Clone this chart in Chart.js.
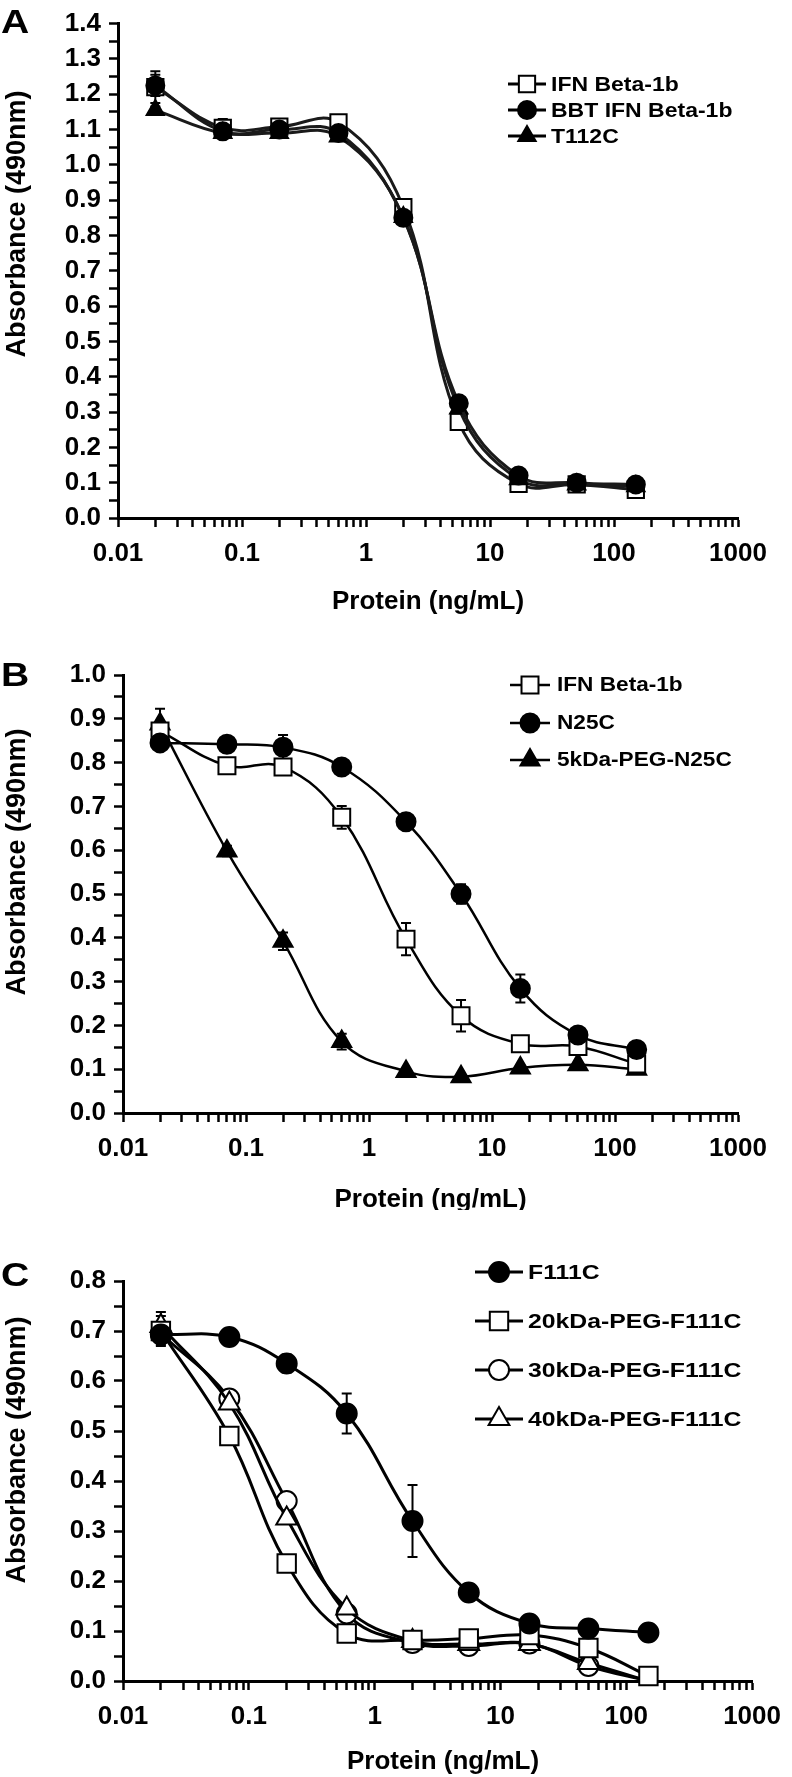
<!DOCTYPE html>
<html>
<head>
<meta charset="utf-8">
<script src="https://cdn.jsdelivr.net/npm/chart.js@4.4.1/dist/chart.umd.min.js"></script>
<style>
  html, body { margin: 0; padding: 0; background: #fff; }
  #wrap { position: relative; width: 792px; height: 1777px; overflow: hidden; }
  canvas { position: absolute; left: 0; }
</style>
</head>
<body>
<div id="wrap">
  <canvas id="chartA" width="792" height="620" style="top:0px"></canvas>
  <canvas id="chartB" width="792" height="590" style="top:620px"></canvas>
  <canvas id="chartC" width="792" height="567" style="top:1210px"></canvas>
</div>
<script>
// ---- data ----
const conc = [0.02, 0.07, 0.2, 0.6, 2, 5.6, 17, 50, 150];   // ng/mL
const xTickLabels = ['0.01', '0.1', '1', '10', '100', '1000'];
const xTitle = 'Protein (ng/mL)';
const yTitle = 'Absorbance (490nm)';

// panel A
const yLabelsA = ['0.0', '0.1', '0.2', '0.3', '0.4', '0.5', '0.6', '0.7', '0.8', '0.9', '1.0', '1.1', '1.2', '1.3', '1.4'];
const ifnA     = [1.22, 1.105, 1.108, 1.12, 0.88, 0.272, 0.097, 0.095, 0.08];
const ifnAErr  = [0.045, 0.025, 0.01, 0.015, 0.015, 0.015, 0.008, 0.008, 0.008];
const bbtA     = [1.225, 1.095, 1.10, 1.09, 0.85, 0.325, 0.12, 0.10, 0.095];
const bbtAErr  = [0.03, 0.01, 0.01, 0.01, 0.012, 0.01, 0.008, 0.006, 0.006];
const t112cA   = [1.155, 1.09, 1.09, 1.08, 0.852, 0.31, 0.11, 0.095, 0.09];
const t112cAErr = [0.01, 0.01, 0.01, 0.01, 0.01, 0.01, 0.005, 0.005, 0.005];

// panel B
const yLabelsB = ['0.0', '0.1', '0.2', '0.3', '0.4', '0.5', '0.6', '0.7', '0.8', '0.9', '1.0'];
const ifnB     = [0.872, 0.793, 0.79, 0.675, 0.397, 0.222, 0.158, 0.152, 0.112];
const ifnBErr  = [0.01, 0.008, 0.008, 0.026, 0.037, 0.036, 0.008, 0.008, 0.008];
const n25cB    = [0.845, 0.842, 0.835, 0.79, 0.665, 0.50, 0.284, 0.178, 0.145];
const n25cBErr = [0.008, 0.005, 0.028, 0.005, 0.006, 0.022, 0.032, 0.008, 0.005];
const pegB     = [0.888, 0.598, 0.392, 0.163, 0.095, 0.083, 0.103, 0.11, 0.10];
const pegBErr  = [0.035, 0.012, 0.02, 0.018, 0.005, 0.005, 0.005, 0.005, 0.005];

// panel C
const yLabelsC = ['0.0', '0.1', '0.2', '0.3', '0.4', '0.5', '0.6', '0.7', '0.8'];
const f111cC    = [0.693, 0.688, 0.635, 0.535, 0.32, 0.177, 0.115, 0.105, 0.097];
const f111cCErr = [0.02, 0.005, 0.018, 0.04, 0.072, 0.008, 0.006, 0.005, 0.004];
const peg20C    = [0.70, 0.49, 0.235, 0.095, 0.082, 0.085, 0.092, 0.066, 0.01];
const peg20CErr = [0.03, 0.01, 0.01, 0.005, 0.005, 0.005, 0.005, 0.005, 0.004];
const peg30C    = [0.695, 0.565, 0.36, 0.135, 0.076, 0.07, 0.075, 0.03, 0.0];
const peg40C    = [0.71, 0.555, 0.325, 0.145, 0.08, 0.074, 0.074, 0.036, 0.0];
const peg40CErr = [0.028, 0.01, 0.01, 0.005, 0.005, 0.005, 0.005, 0.005, 0];

const FONT = "'Liberation Sans', Arial, Helvetica, sans-serif";

// minor + major tick positions of the log axis, one decade at a time
const xTickVals = [];
[0.01, 0.1, 1, 10, 100].forEach(d => { for (let k = 1; k <= 9; k++) xTickVals.push(k * d); });
xTickVals.push(1000);

function drawMarker(ctx, st, x, y) {
  const r = st.r;
  ctx.save();
  ctx.lineWidth = 2;
  ctx.strokeStyle = '#000';
  ctx.fillStyle = st.fill;
  ctx.beginPath();
  if (st.shape === 'circle') {
    ctx.arc(x, y, r, 0, Math.PI * 2);
  } else if (st.shape === 'rect') {
    const s = r * Math.SQRT1_2;
    ctx.rect(x - s, y - s, 2 * s, 2 * s);
  } else {
    let a = 0;
    ctx.moveTo(x + Math.sin(a) * r, y - Math.cos(a) * r);
    a += Math.PI * 2 / 3;
    ctx.lineTo(x + Math.sin(a) * r, y - Math.cos(a) * r);
    a += Math.PI * 2 / 3;
    ctx.lineTo(x + Math.sin(a) * r, y - Math.cos(a) * r);
  }
  ctx.closePath();
  ctx.fill();
  ctx.stroke();
  ctx.restore();
}

function makePanel(cfg) {
  const canvas = document.getElementById(cfg.id);
  const H = canvas.height;
  const A = cfg.area;

  const datasets = cfg.series.map(s => ({
    label: s.label,
    data: conc.map((c, i) => ({ x: c, y: s.values[i] })),
    borderColor: cfg.lineColor,
    borderWidth: cfg.lineWidth,
    tension: 0.4,
    fill: false,
    pointStyle: s.style.shape,
    pointRadius: conc.map((c, i) => (s.style.hideLast && i === conc.length - 1) ? 0 : s.style.r),
    pointBackgroundColor: s.style.fill,
    pointBorderColor: '#000',
    pointBorderWidth: 2,
    clip: false,
    order: s.style.order
  }));

  const decor = {
    id: 'decor',
    beforeDatasetsDraw(chart) {
      const ctx = chart.ctx, xs = chart.scales.x, ys = chart.scales.y;
      ctx.save();
      ctx.strokeStyle = '#000';
      ctx.lineWidth = 2;
      cfg.series.forEach(s => {
        if (!s.err) return;
        s.err.forEach((e, i) => {
          if (!e) return;
          const px = xs.getPixelForValue(conc[i]);
          const y1 = ys.getPixelForValue(s.values[i] + e);
          const y2 = ys.getPixelForValue(s.values[i] - e);
          ctx.beginPath();
          ctx.moveTo(px, y1); ctx.lineTo(px, y2);
          ctx.moveTo(px - 5, y1); ctx.lineTo(px + 5, y1);
          ctx.moveTo(px - 5, y2); ctx.lineTo(px + 5, y2);
          ctx.stroke();
        });
      });
      ctx.restore();
    },
    afterDraw(chart) {
      const ctx = chart.ctx;
      ctx.save();
      ctx.fillStyle = '#000';
      // panel letter
      ctx.save();
      ctx.translate(cfg.letterPos[0], cfg.letterPos[1]);
      ctx.scale(1.15, 1);
      ctx.font = 'bold 34px ' + FONT;
      ctx.textAlign = 'left';
      ctx.textBaseline = 'middle';
      ctx.fillText(cfg.letter, 0, 0);
      ctx.restore();
      // axis titles
      ctx.font = 'bold 26px ' + FONT;
      ctx.textAlign = 'center';
      ctx.textBaseline = 'middle';
      ctx.fillText(xTitle, (A.left + A.right) / 2, cfg.xTitleY);
      ctx.save();
      ctx.translate(cfg.yTitlePos[0], cfg.yTitlePos[1]);
      ctx.rotate(-Math.PI / 2);
      ctx.font = 'bold 27px ' + FONT;
      ctx.fillText(yTitle, 0, 0);
      ctx.restore();
      // legend: line segment with marker, then label
      const L = cfg.legend;
      cfg.series.forEach((s, k) => {
        const y = L.rows[k];
        ctx.strokeStyle = '#000';
        ctx.lineWidth = cfg.lineWidth;
        ctx.beginPath();
        ctx.moveTo(L.x1, y); ctx.lineTo(L.x2, y);
        ctx.stroke();
        drawMarker(ctx, s.style, (L.x1 + L.x2) / 2, y);
        ctx.save();
        ctx.translate(L.tx, y);
        ctx.scale(L.sx, 1);
        ctx.font = 'bold ' + L.size + 'px ' + FONT;
        ctx.textAlign = 'left';
        ctx.textBaseline = 'middle';
        ctx.fillStyle = '#000';
        ctx.fillText(s.label, 0, 1);
        ctx.restore();
      });
      ctx.restore();
    }
  };

  const tickFont = { family: FONT, size: 26, weight: 'bold' };
  const gridOpts = { display: true, drawOnChartArea: false, drawTicks: true, tickLength: 9, tickWidth: 2.5, tickColor: '#000' };

  return new Chart(canvas.getContext('2d'), {
    type: 'line',
    data: { datasets },
    options: {
      responsive: false,
      animation: false,
      events: [],
      layout: { autoPadding: false, padding: { left: 0, top: A.top, right: canvas.width - A.right, bottom: 0 } },
      plugins: { legend: { display: false }, tooltip: { enabled: false } },
      scales: {
        x: {
          type: 'logarithmic',
          min: 0.01, max: 1000,
          border: { display: true, color: '#000', width: 3 },
          grid: gridOpts,
          ticks: {
            autoSkip: false, maxRotation: 0, minRotation: 0, padding: 11, color: '#000', font: tickFont,
            callback: (v, i) => (i % 9 === 0 ? xTickLabels[i / 9] : '')
          },
          afterBuildTicks: s => { s.ticks = xTickVals.map(v => ({ value: v })); },
          afterFit: s => { s.height = H - A.bottom; }
        },
        y: {
          min: 0, max: (cfg.yLabels.length - 1) / 10,
          border: { display: true, color: '#000', width: 3 },
          grid: gridOpts,
          ticks: {
            autoSkip: false, padding: 8, color: '#000', font: tickFont,
            callback: (v, i) => (i % 2 === 0 ? cfg.yLabels[i / 2] : '')
          },
          afterBuildTicks: s => {
            const t = [];
            for (let i = 0; i <= (cfg.yLabels.length - 1) * 2; i++) t.push({ value: i * 0.05 });
            s.ticks = t;
          },
          afterFit: s => { s.width = A.left; }
        }
      }
    },
    plugins: [decor]
  });
}

const sqOpen   = { shape: 'rect', r: 12, fill: '#fff' };
const cirFull  = { shape: 'circle', r: 9, fill: '#000' };
const triFull  = { shape: 'triangle', r: 11, fill: '#000' };

makePanel({
  id: 'chartA',
  area: { left: 118, top: 14, right: 738, bottom: 518 },
  yLabels: yLabelsA,
  lineColor: '#1a1a1a', lineWidth: 3,
  letter: 'A', letterPos: [1, 24],
  xTitleY: 602, yTitlePos: [18, 224],
  legend: { x1: 508, x2: 546, tx: 551, rows: [84, 110, 136], size: 20, sx: 1.15 },
  series: [
    { label: 'IFN Beta-1b', values: ifnA, err: ifnAErr, style: Object.assign({}, sqOpen, { r: 11.5, order: 2 }) },
    { label: 'BBT IFN Beta-1b', values: bbtA, err: bbtAErr, style: Object.assign({}, cirFull, { order: 0 }) },
    { label: 'T112C', values: t112cA, err: t112cAErr, style: Object.assign({}, triFull, { r: 10, order: 1 }) }
  ]
});

makePanel({
  id: 'chartB',
  area: { left: 123, top: 55, right: 738, bottom: 493 },
  yLabels: yLabelsB,
  lineColor: '#000', lineWidth: 2.5,
  letter: 'B', letterPos: [1, 57],
  xTitleY: 580, yTitlePos: [18, 242],
  legend: { x1: 510, x2: 550, tx: 557, rows: [65, 103, 140], size: 19.5, sx: 1.16 },
  series: [
    { label: 'IFN Beta-1b', values: ifnB, err: ifnBErr, style: Object.assign({}, sqOpen, { order: 1 }) },
    { label: 'N25C', values: n25cB, err: n25cBErr, style: Object.assign({}, cirFull, { r: 9.5, order: 0 }) },
    { label: '5kDa-PEG-N25C', values: pegB, err: pegBErr, style: Object.assign({}, triFull, { order: 2 }) }
  ]
});

makePanel({
  id: 'chartC',
  area: { left: 123, top: 71, right: 763, bottom: 471 },
  yLabels: yLabelsC,
  lineColor: '#000', lineWidth: 3,
  letter: 'C', letterPos: [1, 67],
  xTitleY: 552, yTitlePos: [18, 240],
  legend: { x1: 475, x2: 523, tx: 528, rows: [62, 111, 160, 209], size: 21, sx: 1.18 },
  series: [
    { label: 'F111C', values: f111cC, err: f111cCErr, style: Object.assign({}, cirFull, { r: 10, order: 0 }) },
    { label: '20kDa-PEG-F111C', values: peg20C, err: peg20CErr, style: Object.assign({}, sqOpen, { r: 13, order: 1 }) },
    { label: '30kDa-PEG-F111C', values: peg30C, err: null, style: { shape: 'circle', r: 10, fill: '#fff', order: 3, hideLast: true } },
    { label: '40kDa-PEG-F111C', values: peg40C, err: peg40CErr, style: { shape: 'triangle', r: 12, fill: '#fff', order: 2, hideLast: true } }
  ]
});
</script>
</body>
</html>
